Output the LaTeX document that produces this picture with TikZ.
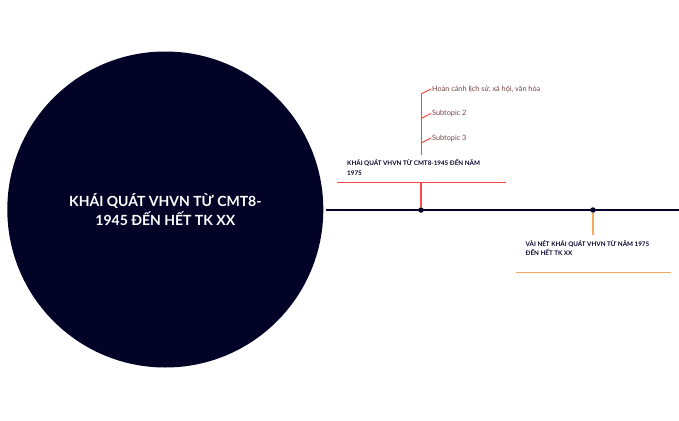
\documentclass[tikz,border=0pt]{standalone}
\usepackage{fontspec}
\setmainfont{Lato}
\usetikzlibrary{positioning}
\definecolor{navy}{RGB}{3,3,40}
\definecolor{topicred}{RGB}{250,72,72}
\definecolor{topicorange}{RGB}{246,168,92}
\definecolor{subbrown}{RGB}{118,66,66}

\begin{document}
\begin{tikzpicture}[x=1pt, y=-1pt,
    hub/.style={circle, fill=navy, minimum size=316pt, inner sep=0pt, text=white, align=center, font=\fontsize{14}{18.5}\selectfont\bfseries},
    dot/.style={circle, fill=navy, inner sep=0pt, minimum size=5.5pt},
    topic/.style={anchor=north west, align=left, inner sep=0pt, text=navy, font=\fontsize{6.3}{9.3}\selectfont\bfseries},
    subtopic/.style={anchor=west, inner sep=1pt, text=subbrown, font=\fontsize{7.3}{8}\selectfont},
    redline/.style={topicred, line width=1.3pt},
    orangeline/.style={topicorange, line width=1.3pt}]
\useasboundingbox (0,0) rectangle (679,420);

% central topic
\node[hub] (hub) at (165.3,209.5) {KHÁI QUÁT VHVN TỪ CMT8-\\1945 ĐẾN HẾT TK XX};

% timeline
\coordinate (tlstart) at (326,210);
\coordinate (tlend) at (679,210);
\draw[navy, line width=1.6pt] (tlstart) -- (tlend);
\node[dot] (d1) at (421,210) {};
\node[dot] (d2) at (593,210) {};

% first topic
\node[topic] (t1) at (347,159.5) {KHÁI QUÁT VHVN TỪ CMT8-1945 ĐẾN NĂM\\1975};
\coordinate (u1a) at (337,182.7);
\coordinate (u1b) at (505.7,182.7);
\coordinate (u1m) at (421,182.7);
\draw[redline] (u1a) -- (u1b);
\draw[redline] (d1) -- (u1m);

\coordinate (s0) at (421,155);
\coordinate (s1) at (421,94);
\coordinate (s2) at (421,118.5);
\coordinate (s3) at (421,143);
\draw[redline, line width=1pt] (s0) -- (s1);
\node[subtopic] (sub1) at (431,89) {Hoàn cảnh lịch sử, xã hội, văn hóa};
\node[subtopic] (sub2) at (431,113.5) {Subtopic 2};
\node[subtopic] (sub3) at (431,138) {Subtopic 3};
\draw[redline, line width=1pt] (s1) -- (sub1.west);
\draw[redline, line width=1pt] (s2) -- (sub2.west);
\draw[redline, line width=1pt] (s3) -- (sub3.west);

% second topic
\coordinate (o1) at (593,235);
\draw[orangeline] (d2) -- (o1);
\node[topic] (t2) at (525.5,240.5) {VÀI NÉT KHÁI QUÁT VHVN TỪ NĂM 1975\\ĐẾN HẾT TK XX};
\coordinate (u2a) at (515.7,272.7);
\coordinate (u2b) at (670.7,272.7);
\draw[orangeline] (u2a) -- (u2b);

\end{tikzpicture}
\end{document}
